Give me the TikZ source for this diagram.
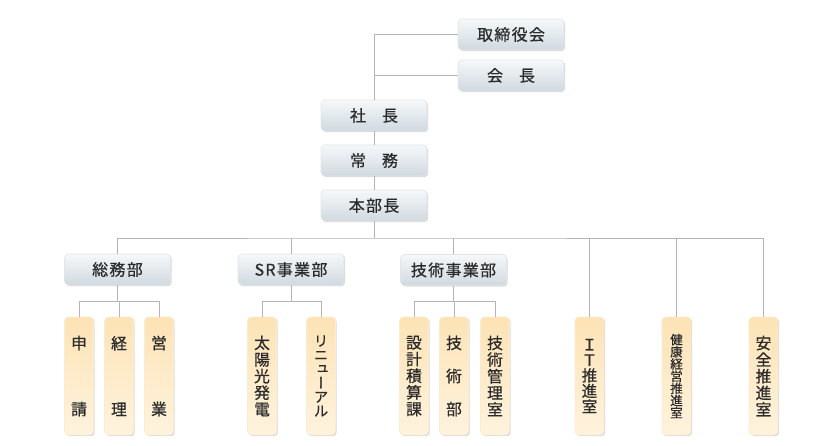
\documentclass[tikz,border=0pt]{standalone}
\usepackage{fontspec}
\setmainfont{Noto Sans CJK JP}
\newfontfamily\jp[FakeBold=0.7]{Noto Sans CJK JP}
\newfontfamily\jpv[RawFeature=+vert,FakeBold=0.7]{Noto Sans CJK JP}
\newfontfamily\jph[LetterSpace=8,FakeBold=0.7]{Noto Sans CJK JP}
\usetikzlibrary{shadows}
\definecolor{linegray}{HTML}{B4B4B4}
\definecolor{boxtop}{HTML}{F6F8F9}
\definecolor{boxbot}{HTML}{D0D9E0}
\definecolor{boxedge}{HTML}{E0E5E9}
\definecolor{vtop}{HTML}{FDE3B5}
\definecolor{vbot}{HTML}{FFF3DE}
\definecolor{vedge}{HTML}{FBEBD0}
\definecolor{txt}{HTML}{2B2B2B}
\tikzset{
  conn/.style={draw=linegray, line width=0.8pt},
  hbox/.style={rounded corners=4pt, minimum width=106pt, minimum height=31pt,
    top color=boxtop, bottom color=boxbot, draw=boxedge, line width=0.6pt,
    drop shadow={shadow xshift=1.2pt, shadow yshift=-1.2pt, opacity=0.3},
    font=\jph\fontsize{16}{18}\selectfont, text=txt, inner sep=0pt},
  vbox/.style={rounded corners=4pt, minimum width=29pt, minimum height=118pt,
    top color=vtop, bottom color=vbot, draw=vedge, line width=0.6pt,
    drop shadow={shadow xshift=1.2pt, shadow yshift=-1.2pt, opacity=0.3},
    align=center, font=\jp\fontsize{15.8}{16.6}\selectfont, text=txt, inner sep=0pt},
}
\begin{document}
\begin{tikzpicture}[x=1pt,y=-1pt]
\useasboundingbox (0,0) rectangle (837,446);
% top level
\node[hbox] (board) at (511,34.5) {取締役会};
\node[hbox] (chair) at (511,75.5) {会\hspace{1em}長};
\node[hbox] (pres) at (374,115.5) {社\hspace{1em}長};
\node[hbox] (exec) at (374,160.5) {常\hspace{1em}務};
\node[hbox] (gm) at (374,205.5) {本部長};
\draw[conn] (board.west) -| (pres.north);
\draw[conn] (chair.west) -- (chair.west -| pres.north);
\draw[conn] (pres.south) -- (exec.north);
\draw[conn] (exec.south) -- (gm.north);
\coordinate (bus) at (374,238);
\draw[conn] (gm.south) -- (bus);
% departments
\node[hbox] (ga) at (117.5,269.5) {総務部};
\node[hbox] (sr) at (291,269.5) {SR事業部};
\node[hbox] (tech) at (453.5,270) {技術事業部};
% tall boxes
\node[vbox] (shinsei) at (79,376) {申\\[49.4pt]請};
\node[vbox] (keiri) at (119,376) {経\\[49.4pt]理};
\node[vbox] (eigyo) at (159,376) {営\\[49.4pt]業};
\node[vbox] (solar) at (262,376) {太\\陽\\光\\発\\電};
\node[vbox, font=\jpv\fontsize{14.5}{14}\selectfont] (renew) at (321,376) {リ\\ニ\\ュ\\ー\\ア\\ル};
\node[vbox] (design) at (414,376) {設\\計\\積\\算\\課};
\node[vbox] (techd) at (454,376) {技\\[16.4pt]術\\[16.4pt]部};
\node[vbox] (techm) at (495,376) {技\\術\\管\\理\\室};
\node[vbox, font=\jp\fontsize{15.5}{15.5}\selectfont] (it) at (589.5,376) {Ｉ\\Ｔ\\推\\進\\室};
\node[vbox, font=\jp\fontsize{12.5}{12.2}\selectfont] (health) at (676.5,376) {健\\康\\経\\営\\推\\進\\室};
\node[vbox] (safety) at (763.5,376) {安\\全\\推\\進\\室};
% main bus
\draw[conn] (ga.north) |- (bus) -| (safety.north);
\draw[conn] (sr.north) -- (sr.north |- bus);
\draw[conn] (tech.north) -- (tech.north |- bus);
\draw[conn] (it.north) -- (it.north |- bus);
\draw[conn] (health.north) -- (health.north |- bus);
% sub buses
\path (ga.south) ++(0,16) coordinate (gab);
\draw[conn] (ga.south) -- (gab);
\draw[conn] (shinsei.north) |- (gab) -| (eigyo.north);
\draw[conn] (keiri.north) -- (keiri.north |- gab);
\path (sr.south) ++(0,16) coordinate (srb);
\draw[conn] (sr.south) -- (srb);
\draw[conn] (solar.north) |- (srb) -| (renew.north);
\path (tech.south) ++(0,16) coordinate (teb);
\draw[conn] (tech.south) -- (teb);
\draw[conn] (design.north) |- (teb) -| (techm.north);
\draw[conn] (techd.north) -- (techd.north |- teb);
\end{tikzpicture}
\end{document}
